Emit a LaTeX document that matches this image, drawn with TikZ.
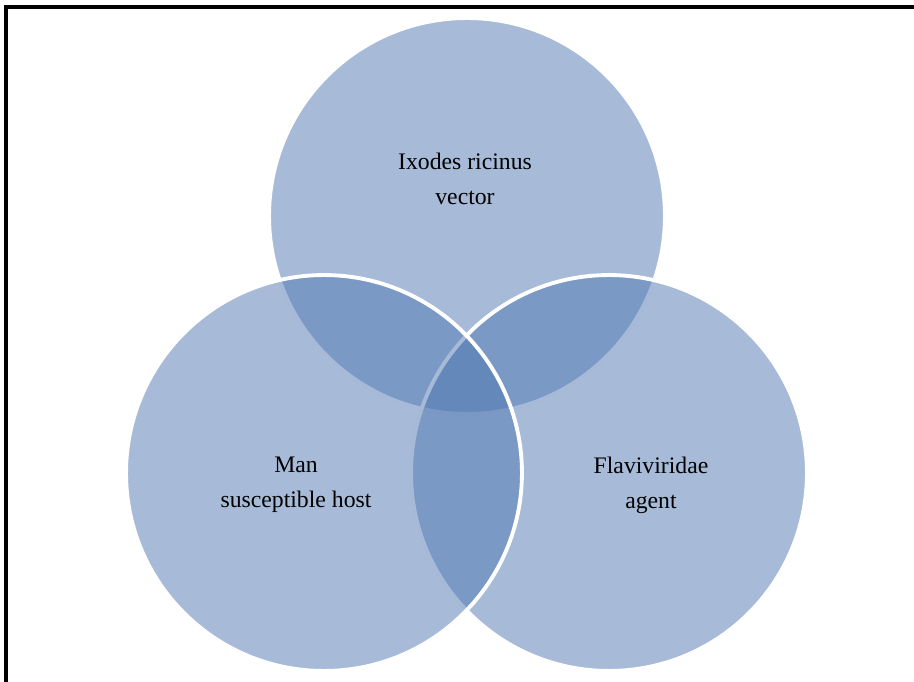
\documentclass[tikz,border=0pt]{standalone}
\usepackage{fontspec}
\setmainfont{Liberation Serif}
\definecolor{vennblue}{RGB}{79,119,177}
\tikzset{
    ring/.style={circle, minimum size=7.92cm, inner sep=0pt, fill=vennblue, fill opacity=0.5, draw=white, line width=2.2pt},
    caption/.style={align=center, font=\fontsize{13.5}{20}\selectfont}
}
\begin{document}
\begin{tikzpicture}[x=0.02cm, y=-0.02cm]
            \useasboundingbox (0,0) rectangle (914,682);
            \draw[line width=2.2pt] (6,682) -- (6,7) -- (914,7);
            % top first, left last
            \foreach \name/\x/\y in {vector/467/216, agent/609/473, host/324/473}
                \node[ring] (\name) at (\x,\y) {};
            \node[caption] (vectortext) at (465,179) {Ixodes ricinus\\vector};
            \node[caption] (hosttext) at (296,485) {Man\\susceptible host};
            \node[caption] (agenttext) at (651,485) {Flaviviridae\\agent};
        \end{tikzpicture}
\end{document}
